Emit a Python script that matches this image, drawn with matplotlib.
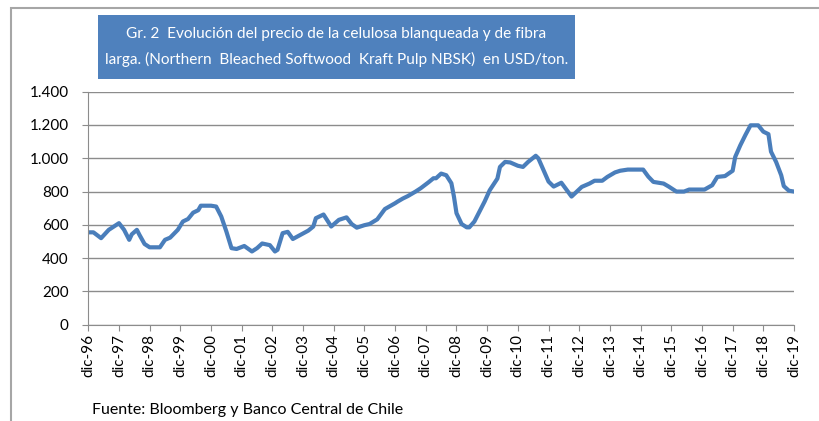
import matplotlib
matplotlib.use("Agg")
import matplotlib.pyplot as plt
from matplotlib.patches import Rectangle
from matplotlib.ticker import FuncFormatter

# months since dic-96, price in USD/ton
months = [0, 2, 5, 8, 12, 14, 16, 17, 19, 20, 22, 24, 28, 30, 32, 35, 37, 39,
          41, 43, 44, 48, 50, 52, 54, 56, 58, 61, 64, 66, 68, 71, 73, 74, 76,
          78, 80, 83, 86, 88, 89, 92, 95, 98, 101, 103, 105, 108, 110, 113,
          116, 120, 121, 123, 125, 128, 130, 133, 135, 136, 138, 140, 142, 143,
          144, 146, 148, 149, 151, 153, 155, 157, 160, 161, 163, 165, 168, 170,
          172, 175, 176, 178, 180, 182, 185, 189, 193, 196, 198, 201, 203, 206,
          208, 211, 217, 219, 221, 225, 227, 230, 233, 235, 241, 244, 246, 249,
          252, 253, 255, 257, 259, 262, 264, 266, 267, 269, 271, 272, 274, 276]
prices = [555, 555, 520, 570, 610, 570, 510, 543, 570, 540, 485, 465, 465, 510,
          523, 570, 620, 635, 673, 688, 715, 715, 710, 650, 560, 460, 455, 473,
          440, 460, 488, 478, 440, 450, 550, 558, 515, 540, 565, 590, 640, 662,
          590, 630, 645, 605, 583, 598, 605, 633, 695, 730, 740, 758, 773, 800,
          820, 855, 880, 880, 908, 898, 850, 770, 670, 605, 585, 585, 620, 680,
          740, 808, 878, 948, 978, 975, 955, 948, 978, 1015, 1000, 930, 860, 830,
          853, 770, 828, 848, 865, 865, 888, 915, 925, 932, 932, 890, 858, 848,
          830, 800, 800, 812, 812, 838, 888, 893, 925, 1008, 1078, 1140, 1198,
          1198, 1160, 1145, 1040, 978, 898, 833, 805, 800]

tick_labels = ["dic-%02d" % (y % 100) for y in range(96, 120)]
y_ticks = [0, 200, 400, 600, 800, 1000, 1200, 1400]

title = ("Gr. 2  Evolución del precio de la celulosa blanqueada y de fibra\n"
         "larga. (Northern  Bleached Softwood  Kraft Pulp NBSK)  en USD/ton.")
source = "Fuente: Bloomberg y Banco Central de Chile"

plt.rcParams["font.family"] = ["Lato", "DejaVu Sans"]

W, H = 819, 421
fig = plt.figure(figsize=(W / 100, H / 100), dpi=100)

# outer frame (cut off at right and bottom like the screenshot)
fig.add_artist(Rectangle((11 / W, -0.1), 1.2, 1.1 - 8 / H, transform=fig.transFigure,
                         fill=False, edgecolor="#a6a6a6", lw=1.5))

ax = fig.add_axes([88.3 / W, 1 - 324.7 / H, (794 - 88.3) / W, (324.7 - 91.7) / H])
ax.plot(months, prices, color="#4a7ebb", lw=3, solid_joinstyle="round")

ax.set_xlim(0, 276)
ax.set_ylim(0, 1400)
ax.set_yticks(y_ticks)
ax.yaxis.set_major_formatter(FuncFormatter(lambda v, p: f"{int(v):,}".replace(",", ".")))
ax.set_xticks(range(0, 277, 12))
ax.set_xticklabels(tick_labels, rotation=90)
ax.grid(axis="y", color="#8c8c8c", lw=1)
ax.set_axisbelow(True)
for s in ["top", "right"]:
    ax.spines[s].set_visible(False)
for s in ["left", "bottom"]:
    ax.spines[s].set_color("#8c8c8c")
ax.tick_params(axis="both", direction="out", length=4, color="#8c8c8c",
               labelsize=11, pad=3)
ax.tick_params(axis="y", pad=10)

# title box
fig.add_artist(Rectangle((98 / W, 1 - 79 / H), (575 - 98) / W, 64 / H,
                         transform=fig.transFigure, facecolor="#4f81bd",
                         edgecolor="none"))
fig.text(336.5 / W, 1 - 47 / H, title, color="white", fontsize=11.1,
         ha="center", va="center", linespacing=1.95)
fig.text(92 / W, 1 - 410 / H, source, fontsize=11.5, ha="left", va="center")

fig.savefig("out.png", dpi=100)
